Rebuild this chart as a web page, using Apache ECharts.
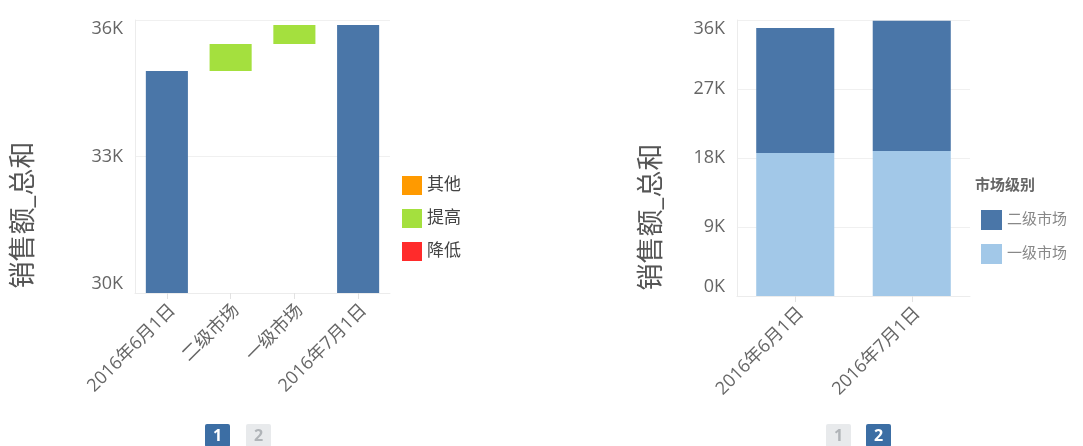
<!DOCTYPE html>
<html><head><meta charset="utf-8">
<script src="https://cdn.jsdelivr.net/npm/echarts@6/dist/echarts.min.js"></script>
<style>html,body{margin:0;padding:0;background:#fff}#c{width:1083px;height:446px}</style>
</head><body><div id="c"></div>
<script>
// ---- Left chart (waterfall) data ----
const wfCategories = ['2016年6月1日', '二级市场', '一级市场', '2016年7月1日'];
const wfStartTotal = 34880;
const wfRises = [590, 420];          // 二级市场, 一级市场
const wfEndTotal = 35890;
const wfLegend = ['其他', '提高', '降低'];
const wfTicks = [30000, 33000, 36000];

// ---- Right chart (stacked) data ----
const stCategories = ['2016年6月1日', '2016年7月1日'];
const stTier1 = [18650, 18900];     // 一级市场
const stTier2 = [16300, 17000];     // 二级市场
const stTicks = [0, 9000, 18000, 27000, 36000];

const FONT = "'Open Sans','Noto Sans CJK SC',sans-serif";
const BLUE = '#4A76A8', LIGHT = '#A2C8E8', GREEN = '#A4E03E', ORANGE = '#FF9A00', RED = '#FF2B2B';

// waterfall helper arrays (built from data)
const totals = [wfStartTotal, '-', '-', wfEndTotal];
const rises = ['-', wfRises[0], wfRises[1], '-'];
const bases = ['-', wfStartTotal, wfStartTotal + wfRises[0], '-'];

const kfmt = v => (v / 1000) + 'K';
const axisCommon = {
  axisLine: { show: true, lineStyle: { color: '#ececec' } },
  axisTick: { show: false },
  splitLine: { show: true, lineStyle: { color: '#f0f0f0' } },
  axisLabel: { color: '#666', fontSize: 18, fontFamily: FONT, margin: 12, formatter: kfmt,
    verticalAlignMinLabel: 'bottom', verticalAlignMaxLabel: 'top' }
};
const xCommon = {
  type: 'category',
  axisLine: { show: true, lineStyle: { color: '#ececec' } },
  axisTick: { show: true, alignWithLabel: true, length: 6, lineStyle: { color: '#e2e2e2' } },
  axisLabel: { rotate: 45, color: '#666', fontSize: 18, fontFamily: FONT, margin: 20, interval: 0, padding: [0, -8, 0, 0] }
};

const chart = echarts.init(document.getElementById('c'), null, { renderer: 'canvas' });
chart.setOption({
  animation: false,
  textStyle: { fontFamily: FONT },
  grid: [
    { left: 135, right: 693, top: 20, bottom: 153 },
    { left: 737, right: 113, top: 20, bottom: 150 }
  ],
  xAxis: [
    Object.assign({ gridIndex: 0, data: wfCategories }, xCommon),
    Object.assign({ gridIndex: 1, data: stCategories }, xCommon)
  ],
  yAxis: [
    Object.assign({ gridIndex: 0, type: 'value', min: wfTicks[0], max: wfTicks[wfTicks.length - 1], interval: wfTicks[1] - wfTicks[0] }, axisCommon),
    Object.assign({ gridIndex: 1, type: 'value', min: stTicks[0], max: stTicks[stTicks.length - 1], interval: stTicks[1] - stTicks[0] }, axisCommon)
  ],
  legend: [
    {
      data: wfLegend, orient: 'vertical', left: 397, top: 171, icon: 'rect',
      itemWidth: 20, itemHeight: 19, itemGap: 14,
      textStyle: { fontSize: 17, color: '#444', fontFamily: FONT }, selectedMode: false
    },
    {
      data: ['二级市场', '一级市场'], orient: 'vertical', left: 976, top: 205, icon: 'rect',
      itemWidth: 21, itemHeight: 20, itemGap: 14,
      textStyle: { fontSize: 15, color: '#888', fontFamily: FONT }, selectedMode: false
    }
  ],
  series: [
    { name: 'base', type: 'bar', xAxisIndex: 0, yAxisIndex: 0, stack: 'wf', barWidth: '66%', data: bases,
      itemStyle: { color: 'transparent' }, silent: true },
    { name: '总计', type: 'bar', xAxisIndex: 0, yAxisIndex: 0, stack: 'wf', data: totals, itemStyle: { color: BLUE } },
    { name: '提高', type: 'bar', xAxisIndex: 0, yAxisIndex: 0, stack: 'wf', data: rises, itemStyle: { color: GREEN } },
    { name: '其他', type: 'bar', xAxisIndex: 0, yAxisIndex: 0, stack: 'wf', data: [], itemStyle: { color: ORANGE } },
    { name: '降低', type: 'bar', xAxisIndex: 0, yAxisIndex: 0, stack: 'wf', data: [], itemStyle: { color: RED } },
    { name: '一级市场', type: 'bar', xAxisIndex: 1, yAxisIndex: 1, stack: 'st', barWidth: '67%', data: stTier1, itemStyle: { color: LIGHT } },
    { name: '二级市场', type: 'bar', xAxisIndex: 1, yAxisIndex: 1, stack: 'st', data: stTier2, itemStyle: { color: BLUE } }
  ],
  graphic: [
    { type: 'text', x: 24, y: 215, rotation: Math.PI / 2,
      style: { text: '销售额_总和', fontSize: 27, fill: '#555', fontFamily: FONT, align: 'center', verticalAlign: 'middle' } },
    { type: 'text', x: 652, y: 217, rotation: Math.PI / 2,
      style: { text: '销售额_总和', fontSize: 27, fill: '#555', fontFamily: FONT, align: 'center', verticalAlign: 'middle' } },
    { type: 'text', x: 975, y: 186,
      style: { text: '市场级别', fontSize: 15, fontWeight: 'bold', fill: '#666', fontFamily: FONT, align: 'left', verticalAlign: 'middle' } },
    // pagination left
    { type: 'rect', shape: { x: 205, y: 424, width: 25, height: 23, r: 2 }, style: { fill: '#3C6EA4' } },
    { type: 'text', x: 217.5, y: 436, style: { text: '1', fontSize: 16, fontWeight: 'bold', fill: '#fff', fontFamily: FONT, align: 'center', verticalAlign: 'middle' } },
    { type: 'rect', shape: { x: 246, y: 424, width: 25, height: 23, r: 2 }, style: { fill: '#E8EAEC' } },
    { type: 'text', x: 258.5, y: 436, style: { text: '2', fontSize: 16, fontWeight: 'bold', fill: '#B0B4B8', fontFamily: FONT, align: 'center', verticalAlign: 'middle' } },
    // pagination right
    { type: 'rect', shape: { x: 826, y: 424, width: 25, height: 23, r: 2 }, style: { fill: '#E8EAEC' } },
    { type: 'text', x: 838.5, y: 436, style: { text: '1', fontSize: 16, fontWeight: 'bold', fill: '#B0B4B8', fontFamily: FONT, align: 'center', verticalAlign: 'middle' } },
    { type: 'rect', shape: { x: 866, y: 424, width: 25, height: 23, r: 2 }, style: { fill: '#3C6EA4' } },
    { type: 'text', x: 878.5, y: 436, style: { text: '2', fontSize: 16, fontWeight: 'bold', fill: '#fff', fontFamily: FONT, align: 'center', verticalAlign: 'middle' } }
  ]
});
</script>
</body></html>
